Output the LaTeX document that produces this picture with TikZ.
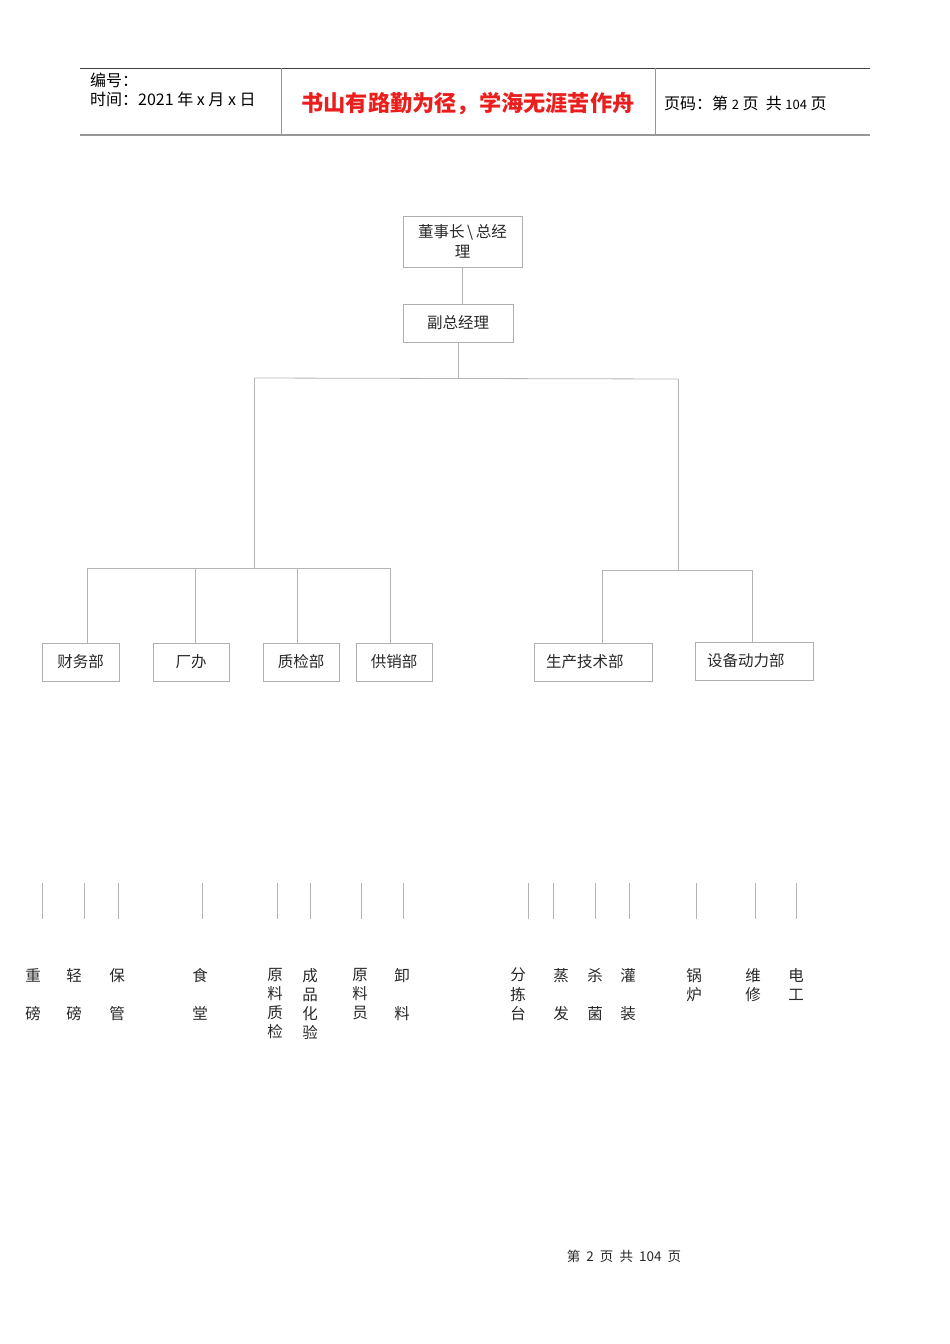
\documentclass[tikz,border=0pt]{standalone}
\usepackage{fontspec}
\setmainfont{Noto Sans CJK SC}
\usepackage{tikz}
\definecolor{boxgray}{RGB}{175,175,175}
\definecolor{linegray}{RGB}{180,180,180}
\definecolor{rulegray}{RGB}{150,150,150}
\definecolor{textgray}{RGB}{40,40,40}
\definecolor{mottored}{RGB}{235,30,30}

\begin{document}
\begin{tikzpicture}[x=1pt,y=-1pt,
    dept/.style={draw=boxgray, line width=0.8pt, inner sep=0pt, minimum height=38pt, align=center,
                 text=textgray, font=\fontsize{15.5}{20}\selectfont},
    widedept/.style={dept, inner xsep=12pt, text width=94pt, align=left},
    link/.style={draw=linegray, line width=0.8pt},
    post/.style={anchor=north, align=center, inner sep=0pt, text=textgray,
                 font=\fontsize{15.5}{19.2}\selectfont},
    head/.style={anchor=west, inner sep=0pt, text=black, font=\fontsize{16}{19}\selectfont}]
            \useasboundingbox (0,0) rectangle (950,1344);
            % header
            \draw[line width=0.8pt, color=black!75]                     (80,68) -- (870,68);
            \draw[line width=1.6pt, color=rulegray]                     (80,135) -- (870,135);
            \draw[line width=0.8pt, color=rulegray]                     (281,68) -- (281,135);
            \draw[line width=0.8pt, color=rulegray]                     (655,68) -- (655,135);
            \node[head] (serial) at (90,80)  {编号：};
            \node[head] (date)   at (90,99)  {时间：2021 年 x 月 x 日};
            \node[inner sep=0pt, text=mottored, font=\fontsize{22.2}{26}\selectfont\bfseries]
                 (motto) at (468,104) {书山有路勤为径，学海无涯苦作舟};
            \node[head] (pageno) at (664,103) {页码：第 {\fontsize{13}{15}\selectfont 2} 页\ \ 共 {\fontsize{13}{15}\selectfont 104} 页};
            % top of the chart
            \node[dept, minimum width=119pt, minimum height=51pt] (board) at (462.5,241.5) {董事长\,\textbackslash\,总经\\理};
            \node[dept, minimum width=110pt]                     (vice)  at (458,323)    {副总经理};
            \draw[link] (board.south) -- (board.south |- vice.north);
            \coordinate (split) at (458,378);
            \coordinate (topL)  at (254,378);
            \coordinate (topR)  at (678,379);
            \coordinate (hubL)  at (254,568);
            \coordinate (hubR)  at (678,570);
            \draw[link] (vice.south) -- (split);
            \draw[link] (topL) -- (topR);
            \draw[link] (topL) -- (hubL);
            \draw[link] (topR) -- (hubR);
            % departments
            \node[dept, minimum width=77pt]  (finance) at (80.5,662) {财务部};
            \node[dept, minimum width=76pt]  (office)  at (191,662)  {厂办};
            \node[dept, minimum width=76pt]  (quality) at (301,662)  {质检部};
            \node[dept, minimum width=76pt]  (sales)   at (394,662)  {供销部};
            \node[widedept]                  (prod)    at (593,662)  {生产技术部};
            \node[widedept]                  (equip)   at (754,661)  {设备动力部};
            \coordinate (barL1) at (87,568);
            \coordinate (barL2) at (390,568);
            \coordinate (barR1) at (602,570);
            \coordinate (barR2) at (752,570);
            \draw[link] (barL1) -- (barL2);
            \draw[link] (barR1) -- (barR2);
            \draw[link] (barL1) -- (barL1 |- finance.north);
            \draw[link] (195,568) -- (195,643);
            \draw[link] (297,568) -- (297,643);
            \draw[link] (barL2) -- (barL2 |- sales.north);
            \draw[link] (barR1) -- (barR1 |- prod.north);
            \draw[link] (barR2) -- (barR2 |- equip.north);
            % posts
            \foreach \x in {42,84,118,202,277,310,361,403,528,553,595,629,696,755,796}
                \draw[link] (\x,883) -- (\x,919);
            \foreach \n/\x/\t in {heavy/33/{重\\\mbox{}\\磅}, light/74/{轻\\\mbox{}\\磅}, store/117/{保\\\mbox{}\\管},
                                  canteen/200/{食\\\mbox{}\\堂}, rawqc/275/{原\\料\\质\\检}, lab/310/{成\\品\\化\\验},
                                  rawman/360/{原\\料\\员}, unload/402/{卸\\\mbox{}\\料}, sort/518/{分\\拣\\台},
                                  steam/561/{蒸\\\mbox{}\\发}, sterile/595/{杀\\\mbox{}\\菌}, fill/628/{灌\\\mbox{}\\装},
                                  boiler/694/{锅\\炉}, repair/753/{维\\修}, elec/796/{电\\工}}
                \node[post] (\n) at (\x,968) {\t};
            % footer
            \node[inner sep=0pt, text=textgray, font=\fontsize{13.5}{16}\selectfont] (footer) at (624,1256) {第\ \ 2\ \ 页\ \ 共\ \ 104\ \ 页};
\end{tikzpicture}
\end{document}
